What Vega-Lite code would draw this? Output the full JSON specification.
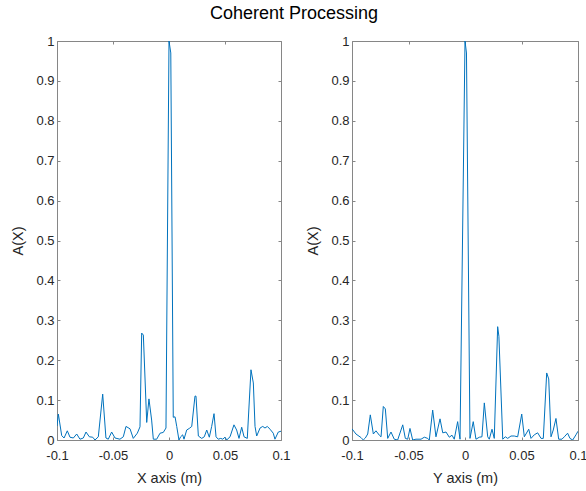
{
  "$schema": "https://vega.github.io/schema/vega-lite/v6.json",
  "padding": {"left": 10, "top": 5, "right": 6, "bottom": 5},
  "title": {"text": "Coherent Processing", "fontSize": 18, "font": "Liberation Sans", "fontWeight": "normal", "color": "#000000", "anchor": "middle", "frame": "bounds", "offset": 12, "dx": -5},
  "spacing": 71,
  "bounds": "flush",
  "config": {
    "view": {"stroke": null},
    "axis": {"domainColor": "#868686", "tickColor": "#868686", "tickSize": -3, "grid": false, "labelFont": "Liberation Sans", "labelFontSize": 13, "labelColor": "#262626", "titleFont": "Liberation Sans", "titleFontSize": 14.5, "titleFontWeight": "normal", "titleColor": "#262626", "labelFlush": false, "labelOverlap": false}
  },
  "datasets": {
    "left": [
      {"x": -0.1, "a": 0.035}, {"x": -0.0988, "a": 0.065}, {"x": -0.0958, "a": 0.011}, {"x": -0.0937, "a": 0.005}, {"x": -0.0908, "a": 0.023}, {"x": -0.0884, "a": 0.007}, {"x": -0.0854, "a": 0.005}, {"x": -0.0824, "a": 0.015}, {"x": -0.0795, "a": 0.002}, {"x": -0.0765, "a": 0.005}, {"x": -0.0741, "a": 0.02}, {"x": -0.0711, "a": 0.008}, {"x": -0.0681, "a": 0.007}, {"x": -0.0661, "a": 0.0}, {"x": -0.0631, "a": 0.008}, {"x": -0.0592, "a": 0.115}, {"x": -0.0563, "a": 0.005}, {"x": -0.0542, "a": 0.002}, {"x": -0.0512, "a": 0.02}, {"x": -0.0482, "a": 0.005}, {"x": -0.0438, "a": 0.002}, {"x": -0.0408, "a": 0.008}, {"x": -0.0384, "a": 0.034}, {"x": -0.0348, "a": 0.028}, {"x": -0.0319, "a": 0.004}, {"x": -0.0283, "a": 0.017}, {"x": -0.0259, "a": 0.033}, {"x": -0.0244, "a": 0.268}, {"x": -0.0229, "a": 0.263}, {"x": -0.0199, "a": 0.044}, {"x": -0.0179, "a": 0.103}, {"x": -0.0155, "a": 0.05}, {"x": -0.014, "a": 0.002}, {"x": -0.011, "a": 0.002}, {"x": -0.008, "a": 0.017}, {"x": -0.0051, "a": 0.019}, {"x": -0.0027, "a": 0.03}, {"x": 0.0, "a": 1.0}, {"x": 0.0016, "a": 0.97}, {"x": 0.0038, "a": 0.057}, {"x": 0.0054, "a": 0.058}, {"x": 0.0069, "a": 0.034}, {"x": 0.0089, "a": 0.0}, {"x": 0.0104, "a": 0.008}, {"x": 0.0122, "a": 0.013}, {"x": 0.0134, "a": 0.002}, {"x": 0.0158, "a": 0.025}, {"x": 0.0181, "a": 0.029}, {"x": 0.0203, "a": 0.034}, {"x": 0.0232, "a": 0.11}, {"x": 0.0241, "a": 0.11}, {"x": 0.0262, "a": 0.01}, {"x": 0.0292, "a": 0.004}, {"x": 0.0315, "a": 0.008}, {"x": 0.0337, "a": 0.025}, {"x": 0.036, "a": 0.007}, {"x": 0.0381, "a": 0.034}, {"x": 0.0402, "a": 0.066}, {"x": 0.042, "a": 0.008}, {"x": 0.044, "a": 0.002}, {"x": 0.0462, "a": 0.004}, {"x": 0.048, "a": 0.002}, {"x": 0.05, "a": 0.007}, {"x": 0.0515, "a": 0.0}, {"x": 0.0545, "a": 0.008}, {"x": 0.058, "a": 0.038}, {"x": 0.0604, "a": 0.025}, {"x": 0.0625, "a": 0.004}, {"x": 0.0649, "a": 0.032}, {"x": 0.067, "a": 0.008}, {"x": 0.0699, "a": 0.004}, {"x": 0.0732, "a": 0.176}, {"x": 0.0753, "a": 0.143}, {"x": 0.0768, "a": 0.034}, {"x": 0.0783, "a": 0.01}, {"x": 0.0813, "a": 0.03}, {"x": 0.0837, "a": 0.034}, {"x": 0.0857, "a": 0.03}, {"x": 0.0878, "a": 0.034}, {"x": 0.0902, "a": 0.027}, {"x": 0.0931, "a": 0.017}, {"x": 0.0946, "a": 0.002}, {"x": 0.0976, "a": 0.02}, {"x": 0.1, "a": 0.022}
    ],
    "right": [
      {"x": -0.1, "a": 0.028}, {"x": -0.0965, "a": 0.015}, {"x": -0.092, "a": 0.006}, {"x": -0.09, "a": 0.0}, {"x": -0.0882, "a": 0.005}, {"x": -0.0861, "a": 0.015}, {"x": -0.0838, "a": 0.063}, {"x": -0.0811, "a": 0.015}, {"x": -0.0788, "a": 0.023}, {"x": -0.0758, "a": 0.012}, {"x": -0.0743, "a": 0.008}, {"x": -0.0723, "a": 0.084}, {"x": -0.0705, "a": 0.078}, {"x": -0.0684, "a": 0.004}, {"x": -0.0655, "a": 0.02}, {"x": -0.0626, "a": 0.002}, {"x": -0.0596, "a": 0.0}, {"x": -0.0551, "a": 0.038}, {"x": -0.0528, "a": 0.004}, {"x": -0.0507, "a": 0.002}, {"x": -0.0487, "a": 0.029}, {"x": -0.0463, "a": 0.0}, {"x": -0.0434, "a": 0.002}, {"x": -0.0389, "a": 0.002}, {"x": -0.036, "a": 0.007}, {"x": -0.033, "a": 0.004}, {"x": -0.0316, "a": 0.0}, {"x": -0.0286, "a": 0.075}, {"x": -0.0257, "a": 0.008}, {"x": -0.0221, "a": 0.053}, {"x": -0.0197, "a": 0.018}, {"x": -0.0168, "a": 0.02}, {"x": -0.0139, "a": 0.007}, {"x": -0.0115, "a": 0.012}, {"x": -0.0095, "a": 0.002}, {"x": -0.0065, "a": 0.046}, {"x": -0.0044, "a": 0.002}, {"x": 0.0, "a": 1.0}, {"x": 0.0013, "a": 0.97}, {"x": 0.0044, "a": 0.004}, {"x": 0.0073, "a": 0.046}, {"x": 0.0097, "a": 0.002}, {"x": 0.0127, "a": 0.007}, {"x": 0.015, "a": 0.008}, {"x": 0.0171, "a": 0.093}, {"x": 0.0201, "a": 0.008}, {"x": 0.0215, "a": 0.002}, {"x": 0.0239, "a": 0.027}, {"x": 0.0259, "a": 0.004}, {"x": 0.0289, "a": 0.284}, {"x": 0.03, "a": 0.26}, {"x": 0.0334, "a": 0.002}, {"x": 0.0357, "a": 0.008}, {"x": 0.0378, "a": 0.004}, {"x": 0.0407, "a": 0.01}, {"x": 0.0436, "a": 0.01}, {"x": 0.0466, "a": 0.008}, {"x": 0.0502, "a": 0.065}, {"x": 0.0525, "a": 0.008}, {"x": 0.0564, "a": 0.027}, {"x": 0.0584, "a": 0.004}, {"x": 0.0613, "a": 0.013}, {"x": 0.0643, "a": 0.018}, {"x": 0.0673, "a": 0.004}, {"x": 0.0693, "a": 0.004}, {"x": 0.0723, "a": 0.168}, {"x": 0.0741, "a": 0.153}, {"x": 0.0761, "a": 0.008}, {"x": 0.0781, "a": 0.025}, {"x": 0.0805, "a": 0.054}, {"x": 0.0829, "a": 0.002}, {"x": 0.0858, "a": 0.002}, {"x": 0.0879, "a": 0.008}, {"x": 0.0908, "a": 0.017}, {"x": 0.0929, "a": 0.004}, {"x": 0.0953, "a": 0.0}, {"x": 0.0982, "a": 0.013}, {"x": 0.1, "a": 0.022}
    ]
  },
  "hconcat": [
    {
      "width": 224, "height": 399,
      "data": {"name": "left"},
      "layer": [
        {
          "mark": {"type": "line", "color": "#0072BD", "strokeWidth": 1, "clip": true},
          "encoding": {
            "x": {"field": "x", "type": "quantitative", "scale": {"domain": [-0.1, 0.1], "nice": false, "zero": false},
                  "axis": {"orient": "bottom", "title": "X axis (m)", "values": [-0.1, -0.05, 0, 0.05, 0.1], "labelExpr": "datum.value == 0 ? '0' : (datum.value < 0 ? '-' : '') + format(abs(datum.value), '~g')", "labelPadding": 12, "titlePadding": 9}},
            "y": {"field": "a", "type": "quantitative", "scale": {"domain": [0, 1], "nice": false},
                  "axis": {"orient": "left", "title": "A(X)", "values": [0, 0.1, 0.2, 0.3, 0.4, 0.5, 0.6, 0.7, 0.8, 0.9, 1], "format": "~g", "labelPadding": 6, "titlePadding": 10}}
          }
        },
        {
          "mark": {"type": "line", "opacity": 0},
          "encoding": {
            "x": {"field": "x", "type": "quantitative", "axis": {"orient": "top", "title": null, "labels": false, "values": [-0.1, -0.05, 0, 0.05, 0.1]}},
            "y": {"field": "a", "type": "quantitative", "axis": {"orient": "right", "title": null, "labels": false, "values": [0, 0.1, 0.2, 0.3, 0.4, 0.5, 0.6, 0.7, 0.8, 0.9, 1]}}
          }
        }
      ],
      "resolve": {"axis": {"x": "independent", "y": "independent"}}
    },
    {
      "width": 226, "height": 399,
      "data": {"name": "right"},
      "layer": [
        {
          "mark": {"type": "line", "color": "#0072BD", "strokeWidth": 1, "clip": true},
          "encoding": {
            "x": {"field": "x", "type": "quantitative", "scale": {"domain": [-0.1, 0.1], "nice": false, "zero": false},
                  "axis": {"orient": "bottom", "title": "Y axis (m)", "values": [-0.1, -0.05, 0, 0.05, 0.1], "labelExpr": "datum.value == 0 ? '0' : (datum.value < 0 ? '-' : '') + format(abs(datum.value), '~g')", "labelPadding": 12, "titlePadding": 9}},
            "y": {"field": "a", "type": "quantitative", "scale": {"domain": [0, 1], "nice": false},
                  "axis": {"orient": "left", "title": "A(X)", "values": [0, 0.1, 0.2, 0.3, 0.4, 0.5, 0.6, 0.7, 0.8, 0.9, 1], "format": "~g", "labelPadding": 6, "titlePadding": 10}}
          }
        },
        {
          "mark": {"type": "line", "opacity": 0},
          "encoding": {
            "x": {"field": "x", "type": "quantitative", "axis": {"orient": "top", "title": null, "labels": false, "values": [-0.1, -0.05, 0, 0.05, 0.1]}},
            "y": {"field": "a", "type": "quantitative", "axis": {"orient": "right", "title": null, "labels": false, "values": [0, 0.1, 0.2, 0.3, 0.4, 0.5, 0.6, 0.7, 0.8, 0.9, 1]}}
          }
        }
      ],
      "resolve": {"axis": {"x": "independent", "y": "independent"}}
    }
  ]
}
